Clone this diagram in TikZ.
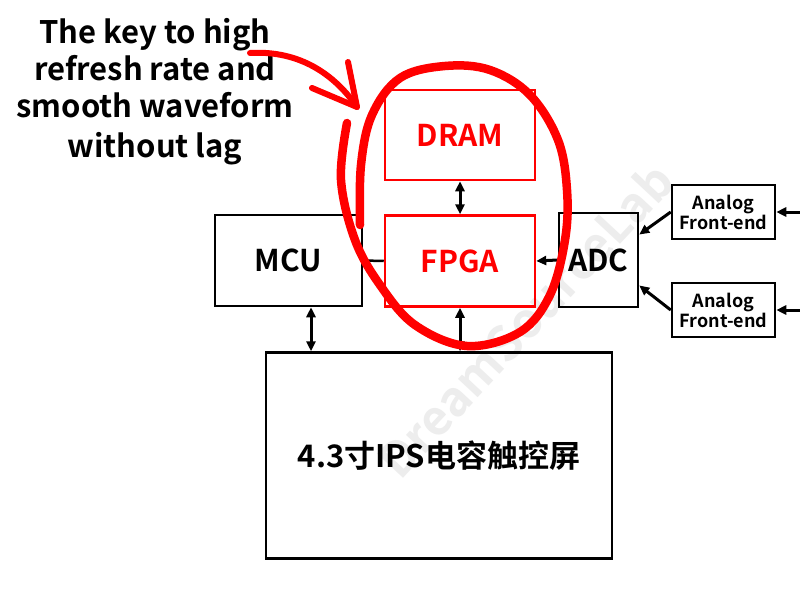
\documentclass[tikz,border=0pt]{standalone}
\usepackage{fontspec}
\setmainfont{Noto Sans CJK SC}[BoldFont={* Bold}]
\usetikzlibrary{arrows.meta}
\begin{document}
\begin{tikzpicture}[x=1pt,y=-1pt,
  blk/.style={draw=black,line width=2.5pt,inner sep=0pt,font=\bfseries\fontsize{30}{36}\selectfont},
  rblk/.style={blk,draw=red,text=red},
  afe/.style={blk,font=\bfseries\fontsize{18}{20}\selectfont,align=center},
  tipd/.style={line width=3pt,-{Triangle[length=10pt,width=9pt]}},
  bitip/.style={line width=3pt,{Triangle[length=10pt,width=9pt]}-{Triangle[length=10pt,width=9pt]}},
  plainline/.style={line width=2.5pt},
  capt/.style={anchor=base,inner sep=0pt,font=\bfseries\fontsize{31}{36}\selectfont},
  hand/.style={draw=red,line width=8.5pt,line cap=round,line join=round}
]
\useasboundingbox (0,0) rectangle (800,605);
\fill[white] (0,0) rectangle (800,605);

% watermark
\node[rotate=47,text=black!7,font=\bfseries\fontsize{48}{48}\selectfont] (wm) at (525,320) {DreamSourceLab};

% blocks
\node[rblk,minimum width=150pt,minimum height=90pt] (dram) at (460,135) {DRAM};
\node[rblk,minimum width=150pt,minimum height=91pt] (fpga) at (460,261) {FPGA};
\node[blk,minimum width=147pt,minimum height=91pt] (mcu) at (288.5,260.5) {MCU};
\node[blk,minimum width=79pt,minimum height=94pt] (adc) at (598.5,260) {ADC};
\node[afe,minimum width=103pt,minimum height=54pt] (afe1) at (723.5,212) {Analog\\Front-end};
\node[afe,minimum width=103pt,minimum height=54pt] (afe2) at (723.5,310) {Analog\\Front-end};
\node[blk,minimum width=346pt,minimum height=206pt,font=\bfseries\fontsize{31}{36}\selectfont] (scr) at (439,455.5) {4.3寸IPS电容触控屏};

% connectors
\coordinate (mx) at (311,0);
\coordinate (in1) at (801,212);
\coordinate (in2) at (801,310);
\draw[bitip] (dram.south) -- (fpga.north);
\draw[bitip] (mx |- mcu.south) -- (mx |- scr.north);
\draw[bitip] (fpga.south) -- (fpga.south |- scr.north);
\draw[plainline] (mcu.east) -- (fpga.west);
\draw[tipd] (adc.west) -- (fpga.east);
\draw[tipd] (afe1.west) -- (adc.32);
\draw[tipd] (afe2.west) -- (adc.-32);
\draw[tipd] (in1) -- (afe1.east);
\draw[tipd] (in2) -- (afe2.east);

% caption
\node[capt] (c1) at (155,43) {The key to high};
\node[capt] (c2) at (155,80) {refresh rate and};
\node[capt] (c3) at (155,117) {smooth waveform};
\node[capt] (c4) at (155,157) {without lag};

% hand-drawn red ellipse
\draw[hand] plot[smooth,tension=0.6] coordinates {(347,123) (341,180) (355,240) (380,285) (415,325) (467,346) (520,332) (550,295) (565,240) (567,190) (558,140) (530,95) (490,70) (445,66) (400,78) (372,115) (361,165) (360,225)};

% red arrow
\draw[hand,line width=6pt] (250,53) .. controls (300,50) and (335,75) .. (357,107);
\draw[hand,line width=6pt] (348,62) -- (357,107) -- (312,88);
\end{tikzpicture}
\end{document}
